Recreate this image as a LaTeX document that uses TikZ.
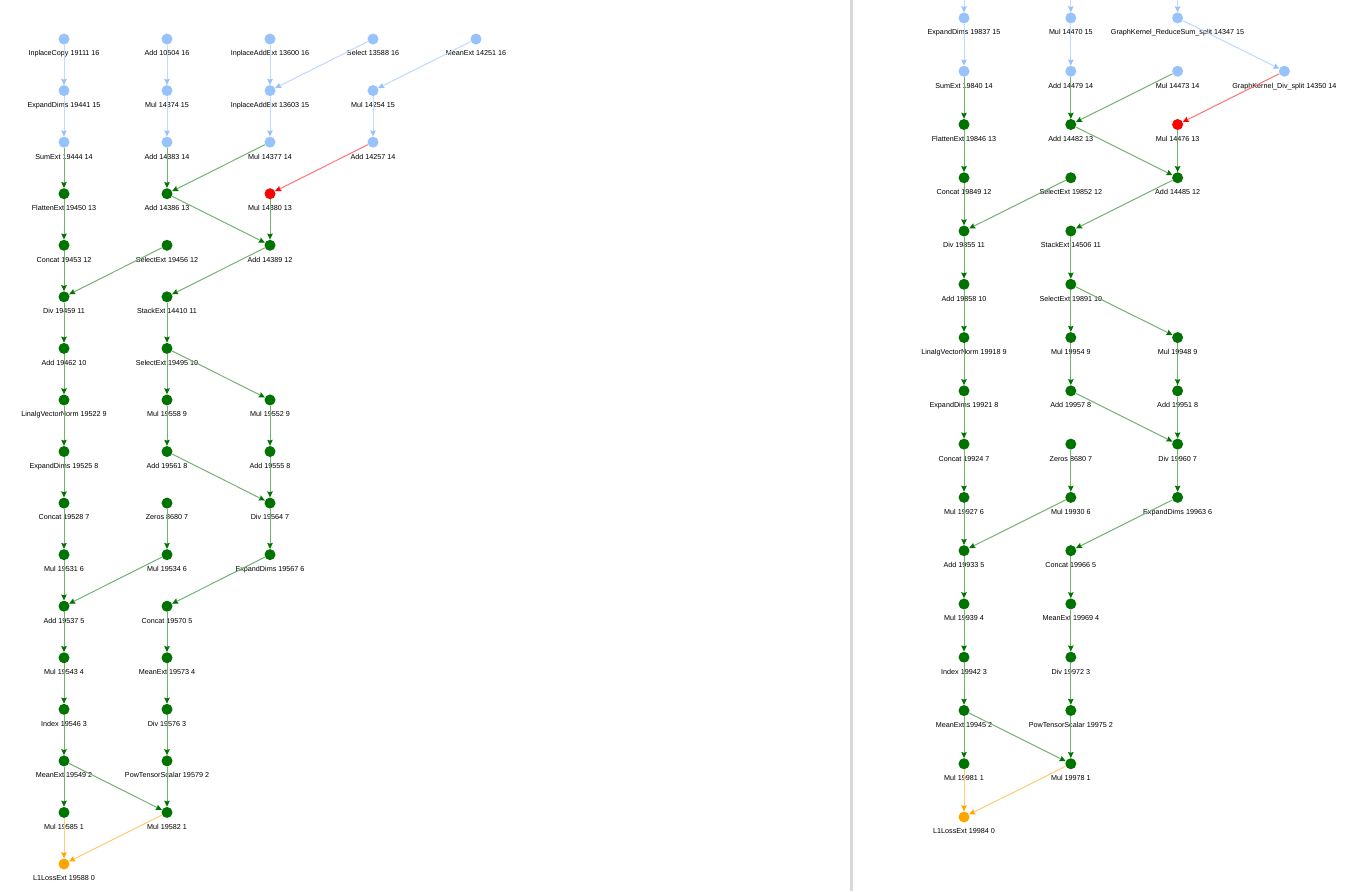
\documentclass[tikz,border=0pt]{standalone}
\usepackage{fontspec}
\setmainfont{Liberation Sans}
\usetikzlibrary{arrows.meta}

\definecolor{nodeblue}{HTML}{97C2FC}
\definecolor{nodegreen}{HTML}{007300}
\definecolor{nodered}{HTML}{FF0000}
\definecolor{nodeorange}{HTML}{FFA500}
\definecolor{divgray}{HTML}{D9D9D9}

\begin{document}
\begin{tikzpicture}[
  font=\fontsize{7.2}{8.6}\selectfont,
  op/.style={circle, inner sep=0pt, minimum size=11pt},
  bop/.style={op, fill=nodeblue},
  gop/.style={op, fill=nodegreen},
  rop/.style={op, fill=nodered},
  oop/.style={op, fill=nodeorange},
  lbl/.style={anchor=base, inner sep=0pt},
  lab/.style={label={[lbl]below:#1}},
  label distance=11.2pt,
  edge/.style={line width=1pt},
  eb/.style={edge, draw=nodeblue!60!white,
             -{Stealth[length=6pt, width=5.5pt, inset=0.8pt, color=nodeblue]}},
  eg/.style={edge, draw=nodegreen!55!white,
             -{Stealth[length=6pt, width=5.5pt, inset=0.8pt, color=nodegreen]}},
  er/.style={edge, draw=nodered!55!white,
             -{Stealth[length=6pt, width=5.5pt, inset=0.8pt, color=nodered]}},
  eo/.style={edge, draw=nodeorange!55!white,
             -{Stealth[length=6pt, width=5.5pt, inset=0.8pt, color=nodeorange]}}]

\fill[white] (0,0) rectangle (1356pt,-891pt);
\useasboundingbox (0,0) rectangle (1356pt,-891pt);
\fill[divgray] (850pt,0) rectangle (853pt,-891pt);

% Left: first graph.
\begin{scope}[shift={(64pt,-864pt)}, x=103pt, y=51.56pt]
\node[bop, lab=InplaceCopy 19111 16] (l19111) at (0,16) {};
\node[bop, lab=ExpandDims 19441 15] (l19441) at (0,15) {};
\node[bop, lab=SumExt 19444 14] (l19444) at (0,14) {};
\node[gop, lab=FlattenExt 19450 13] (l19450) at (0,13) {};
\node[gop, lab=Concat 19453 12] (l19453) at (0,12) {};
\node[gop, lab=Div 19459 11] (l19459) at (0,11) {};
\node[gop, lab=Add 19462 10] (l19462) at (0,10) {};
\node[gop, lab=LinalgVectorNorm 19522 9] (l19522) at (0,9) {};
\node[gop, lab=ExpandDims 19525 8] (l19525) at (0,8) {};
\node[gop, lab=Concat 19528 7] (l19528) at (0,7) {};
\node[gop, lab=Mul 19531 6] (l19531) at (0,6) {};
\node[gop, lab=Add 19537 5] (l19537) at (0,5) {};
\node[gop, lab=Mul 19543 4] (l19543) at (0,4) {};
\node[gop, lab=Index 19546 3] (l19546) at (0,3) {};
\node[gop, lab=MeanExt 19549 2] (l19549) at (0,2) {};
\node[gop, lab=Mul 19585 1] (l19585) at (0,1) {};
\node[oop, lab=L1LossExt 19588 0] (l19588) at (0,0) {};

\node[bop, lab=Add 10504 16] (l10504) at (1,16) {};
\node[bop, lab=Mul 14374 15] (l14374) at (1,15) {};
\node[bop, lab=Add 14383 14] (l14383) at (1,14) {};
\node[gop, lab=Add 14386 13] (l14386) at (1,13) {};
\node[gop, lab=SelectExt 19456 12] (l19456) at (1,12) {};
\node[gop, lab=StackExt 14410 11] (l14410) at (1,11) {};
\node[gop, lab=SelectExt 19495 10] (l19495) at (1,10) {};
\node[gop, lab=Mul 19558 9] (l19558) at (1,9) {};
\node[gop, lab=Add 19561 8] (l19561) at (1,8) {};
\node[gop, lab=Zeros 8680 7] (l8680) at (1,7) {};
\node[gop, lab=Mul 19534 6] (l19534) at (1,6) {};
\node[gop, lab=Concat 19570 5] (l19570) at (1,5) {};
\node[gop, lab=MeanExt 19573 4] (l19573) at (1,4) {};
\node[gop, lab=Div 19576 3] (l19576) at (1,3) {};
\node[gop, lab=PowTensorScalar 19579 2] (l19579) at (1,2) {};
\node[gop, lab=Mul 19582 1] (l19582) at (1,1) {};

\node[bop, lab=InplaceAddExt 13600 16] (l13600) at (2,16) {};
\node[bop, lab=InplaceAddExt 13603 15] (l13603) at (2,15) {};
\node[bop, lab=Mul 14377 14] (l14377) at (2,14) {};
\node[rop, lab=Mul 14380 13] (l14380) at (2,13) {};
\node[gop, lab=Add 14389 12] (l14389) at (2,12) {};
\node[gop, lab=Mul 19552 9] (l19552) at (2,9) {};
\node[gop, lab=Add 19555 8] (l19555) at (2,8) {};
\node[gop, lab=Div 19564 7] (l19564) at (2,7) {};
\node[gop, lab=ExpandDims 19567 6] (l19567) at (2,6) {};

\node[bop, lab=Select 13588 16] (l13588) at (3,16) {};
\node[bop, lab=Mul 14254 15] (l14254) at (3,15) {};
\node[bop, lab=Add 14257 14] (l14257) at (3,14) {};
\node[bop, lab=MeanExt 14251 16] (l14251) at (4,16) {};

\foreach \a/\b in {19111/19441, 19441/19444, 10504/14374, 14374/14383,
  13600/13603, 13588/13603, 13603/14377, 14251/14254, 14254/14257}
  \draw[eb] (l\a) -- (l\b);
\foreach \a/\b in {19444/19450, 19450/19453, 19453/19459, 19456/19459,
  19459/19462, 19462/19522, 19522/19525, 19525/19528, 19528/19531,
  19531/19537, 19534/19537, 19537/19543, 19543/19546, 19546/19549,
  19549/19585, 19549/19582, 14383/14386, 14377/14386, 14386/14389,
  14380/14389, 14389/14410, 14410/19495, 19495/19558, 19495/19552,
  19558/19561, 19561/19564, 19552/19555, 19555/19564, 19564/19567,
  19567/19570, 8680/19534, 19570/19573, 19573/19576, 19576/19579,
  19579/19582}
  \draw[eg] (l\a) -- (l\b);
\draw[er] (l14257) -- (l14380);
\draw[eo] (l19585) -- (l19588);
\draw[eo] (l19582) -- (l19588);
\end{scope}

% Right: second graph, cut off at the top.
\begin{scope}[shift={(964pt,-817pt)}, x=106.8pt, y=53.27pt]
\coordinate (rtop0) at (0,15.338);
\coordinate (rtop1) at (1,15.338);
\coordinate (rtop2) at (2,15.338);

\node[bop, lab=ExpandDims 19837 15] (r19837) at (0,15) {};
\node[bop, lab=SumExt 19840 14] (r19840) at (0,14) {};
\node[gop, lab=FlattenExt 19846 13] (r19846) at (0,13) {};
\node[gop, lab=Concat 19849 12] (r19849) at (0,12) {};
\node[gop, lab=Div 19855 11] (r19855) at (0,11) {};
\node[gop, lab=Add 19858 10] (r19858) at (0,10) {};
\node[gop, lab=LinalgVectorNorm 19918 9] (r19918) at (0,9) {};
\node[gop, lab=ExpandDims 19921 8] (r19921) at (0,8) {};
\node[gop, lab=Concat 19924 7] (r19924) at (0,7) {};
\node[gop, lab=Mul 19927 6] (r19927) at (0,6) {};
\node[gop, lab=Add 19933 5] (r19933) at (0,5) {};
\node[gop, lab=Mul 19939 4] (r19939) at (0,4) {};
\node[gop, lab=Index 19942 3] (r19942) at (0,3) {};
\node[gop, lab=MeanExt 19945 2] (r19945) at (0,2) {};
\node[gop, lab=Mul 19981 1] (r19981) at (0,1) {};
\node[oop, lab=L1LossExt 19984 0] (r19984) at (0,0) {};

\node[bop, lab=Mul 14470 15] (r14470) at (1,15) {};
\node[bop, lab=Add 14479 14] (r14479) at (1,14) {};
\node[gop, lab=Add 14482 13] (r14482) at (1,13) {};
\node[gop, lab=SelectExt 19852 12] (r19852) at (1,12) {};
\node[gop, lab=StackExt 14506 11] (r14506) at (1,11) {};
\node[gop, lab=SelectExt 19891 10] (r19891) at (1,10) {};
\node[gop, lab=Mul 19954 9] (r19954) at (1,9) {};
\node[gop, lab=Add 19957 8] (r19957) at (1,8) {};
\node[gop, lab=Zeros 8680 7] (r8680) at (1,7) {};
\node[gop, lab=Mul 19930 6] (r19930) at (1,6) {};
\node[gop, lab=Concat 19966 5] (r19966) at (1,5) {};
\node[gop, lab=MeanExt 19969 4] (r19969) at (1,4) {};
\node[gop, lab=Div 19972 3] (r19972) at (1,3) {};
\node[gop, lab=PowTensorScalar 19975 2] (r19975) at (1,2) {};
\node[gop, lab=Mul 19978 1] (r19978) at (1,1) {};

\node[bop, lab=GraphKernel\_ReduceSum\_split 14347 15] (r14347) at (2,15) {};
\node[bop, lab=Mul 14473 14] (r14473) at (2,14) {};
\node[rop, lab=Mul 14476 13] (r14476) at (2,13) {};
\node[gop, lab=Add 14485 12] (r14485) at (2,12) {};
\node[gop, lab=Mul 19948 9] (r19948) at (2,9) {};
\node[gop, lab=Add 19951 8] (r19951) at (2,8) {};
\node[gop, lab=Div 19960 7] (r19960) at (2,7) {};
\node[gop, lab=ExpandDims 19963 6] (r19963) at (2,6) {};

\node[bop, lab=GraphKernel\_Div\_split 14350 14] (r14350) at (3,14) {};

\draw[eb] (rtop0) -- (r19837);
\draw[eb] (rtop1) -- (r14470);
\draw[eb] (rtop2) -- (r14347);
\foreach \a/\b in {19837/19840, 14470/14479, 14347/14350}
  \draw[eb] (r\a) -- (r\b);
\foreach \a/\b in {19840/19846, 19846/19849, 19849/19855, 19852/19855,
  19855/19858, 19858/19918, 19918/19921, 19921/19924, 19924/19927,
  19927/19933, 19930/19933, 19933/19939, 19939/19942, 19942/19945,
  19945/19981, 19945/19978, 14479/14482, 14473/14482, 14482/14485,
  14476/14485, 14485/14506, 14506/19891, 19891/19954, 19891/19948,
  19954/19957, 19957/19960, 19948/19951, 19951/19960, 19960/19963,
  19963/19966, 8680/19930, 19966/19969, 19969/19972, 19972/19975,
  19975/19978}
  \draw[eg] (r\a) -- (r\b);
\draw[er] (r14350) -- (r14476);
\draw[eo] (r19981) -- (r19984);
\draw[eo] (r19978) -- (r19984);
\end{scope}
\end{tikzpicture}
\end{document}
